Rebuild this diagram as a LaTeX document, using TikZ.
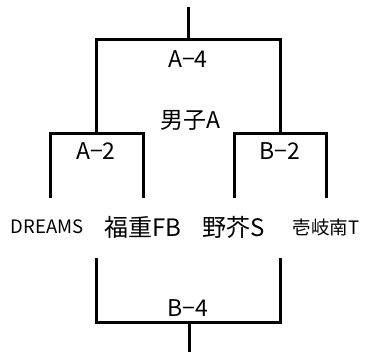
\documentclass[tikz,border=0pt]{standalone}
\usepackage{fontspec}
\setmainfont{Noto Sans CJK JP}
\begin{document}
\begin{tikzpicture}[x=1pt,y=-1pt,
  br/.style={line width=3pt,line cap=rect},
  lbl/.style={inner sep=0pt,font=\fontsize{23}{23}\selectfont},
  team/.style={inner sep=0pt,font=\fontsize{24}{24}\selectfont},
  steam/.style={inner sep=0pt,font=\fontsize{18.5}{18.5}\selectfont}]
\useasboundingbox (0,0) rectangle (367,352);
% coordinates
\coordinate (top) at (188,9);
\coordinate (tl) at (96,40);
\coordinate (tr) at (280,40);
\coordinate (tm) at (188,40);
\coordinate (al) at (50,134);
\coordinate (ar) at (143,134);
\coordinate (bl) at (234,134);
\coordinate (brr) at (326,134);
\coordinate (alb) at (50,197);
\coordinate (arb) at (143,197);
\coordinate (blb) at (234,197);
\coordinate (brb) at (326,197);
\coordinate (cl) at (96,260);
\coordinate (cr) at (280,260);
\coordinate (clb) at (96,323);
\coordinate (crb) at (280,323);
\coordinate (cm) at (189,323);
\coordinate (bot) at (189,352);
% lines
\draw[br] (top) -- (tm);
\draw[br] (96,134) -- (tl) -- (tr) -- (280,134);
\draw[br] (alb) -- (al) -- (ar) -- (arb);
\draw[br] (blb) -- (bl) -- (brr) -- (brb);
\draw[br] (cl) -- (clb) -- (crb) -- (cr);
\draw[line width=3pt] (cm) -- (bot);
% labels
\node[lbl] (a4) at (188,59) {A−4};
\node[lbl] (dan) at (190,120) {男子A};
\node[lbl] (a2) at (96,151) {A−2};
\node[lbl] (b2) at (280,151) {B−2};
\node[lbl] (b4) at (188,308) {B−4};
\node[steam] (t1) at (47,227) {DREAMS};
\node[team] (t2) at (143,227) {福重FB};
\node[team] (t3) at (234,227) {野芥S};
\node[steam] (t4) at (326,227) {壱岐南T};
\end{tikzpicture}
\end{document}
